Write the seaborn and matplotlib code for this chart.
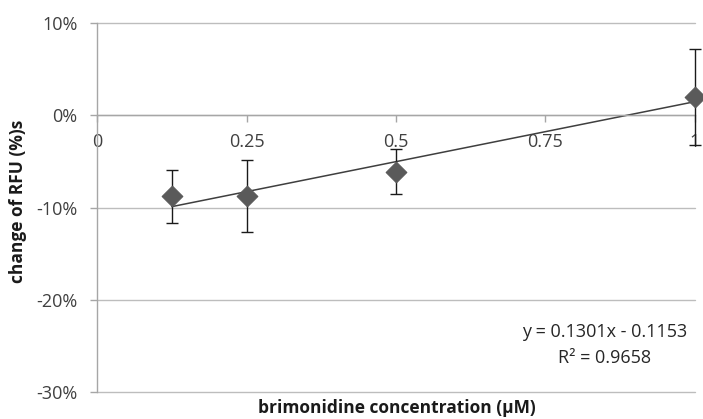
import numpy as np
import pandas as pd
import matplotlib
matplotlib.use("Agg")
import matplotlib.pyplot as plt
import matplotlib.ticker as mticker
import seaborn as sns

# Measurements: brimonidine concentration (uM) vs. change of RFU
concentration = [0.125, 0.25, 0.5, 1.0]
rfu_change = [-0.088, -0.088, -0.061, 0.020]
rfu_err = [0.029, 0.039, 0.024, 0.052]

# Linear trendline reported on the chart
slope = 0.1301
intercept = -0.1153
r_squared = 0.9658

x_ticks = [0, 0.25, 0.5, 0.75, 1]
x_tick_labels = ["0", "0.25", "0.5", "0.75", "1"]
y_ticks = [-0.3, -0.2, -0.1, 0.0, 0.1]

sns.set_theme(style="white")
plt.rcParams["font.family"] = ["Open Sans", "DejaVu Sans"]

df = pd.DataFrame({"conc": concentration, "change": rfu_change, "err": rfu_err})

fig = plt.figure(figsize=(7.03, 4.19), dpi=100)
ax = fig.add_axes([0.138, 0.0644, 0.8506, 0.8806])

# horizontal gridlines
for yv in y_ticks:
    ax.axhline(yv, color="#bdbdbd", lw=1.0, zorder=0, clip_on=False)

# trendline over the range of the data
xs = np.array([min(concentration), max(concentration)])
trend = pd.DataFrame({"x": xs, "y": slope * xs + intercept})
sns.lineplot(data=trend, x="x", y="y", ax=ax, color="#3f3f3f", lw=1.1, zorder=2)

# error bars
eb = ax.errorbar(df["conc"], df["change"], yerr=df["err"], fmt="none",
                 ecolor="#1a1a1a", elinewidth=1.0, capsize=4, capthick=1.0, zorder=3)
for art in eb.lines[1] + eb.lines[2]:
    art.set_clip_on(False)

# diamond markers
sns.scatterplot(data=df, x="conc", y="change", ax=ax, marker="D", s=110,
                color="#5a5a5a", edgecolor="#5a5a5a", zorder=4, clip_on=False)

ax.set_xlim(0, 1)
ax.set_ylim(-0.3, 0.1)
ax.set_yticks(y_ticks)
ax.yaxis.set_major_formatter(mticker.FuncFormatter(lambda v, p: f"{v*100:.0f}%"))
ax.set_xticks(x_ticks)
ax.set_xticklabels(x_tick_labels)

for s in ["top", "right"]:
    ax.spines[s].set_visible(False)
ax.spines["left"].set_color("#a6a6a6")
ax.spines["left"].set_linewidth(1.0)
ax.spines["bottom"].set_position(("data", 0))
ax.spines["bottom"].set_color("#a6a6a6")
ax.spines["bottom"].set_linewidth(1.0)

ax.tick_params(axis="y", which="major", length=5, width=1, color="#a6a6a6",
               labelsize=13, labelcolor="#404040", pad=9, left=True)
ax.tick_params(axis="x", which="major", length=5, width=1, color="#a6a6a6",
               labelsize=13, labelcolor="#404040", pad=8, bottom=True, direction="out")

ax.set_xlabel("")
ax.set_ylabel("")
fig.text(0.565, 0.027, "brimonidine concentration (\u03bcM)", ha="center", va="center",
         fontsize=12.5, fontweight="bold", color="#1a1a1a")
fig.text(0.026, 0.52, "change of RFU (%)s", ha="center", va="center", rotation=90,
         fontsize=12.5, fontweight="bold", color="#1a1a1a")

ax.text(0.849, -0.2345, f"y = {slope:.4f}x - {-intercept:.4f}", ha="center", va="center",
        fontsize=13, color="#262626")
ax.text(0.849, -0.263, f"R\u00b2 = {r_squared:.4f}", ha="center", va="center",
        fontsize=13, color="#262626")

fig.savefig("out.png", dpi=100)
